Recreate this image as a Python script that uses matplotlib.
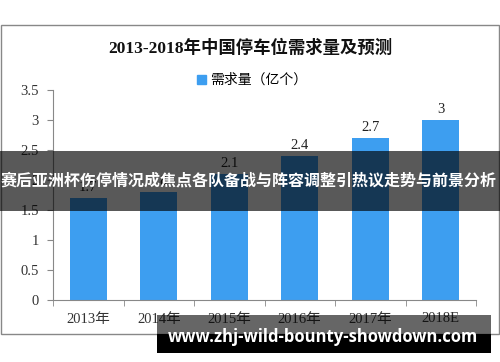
import matplotlib
matplotlib.use('Agg')
import matplotlib.pyplot as plt
from matplotlib.patches import Rectangle, Patch

plt.rcParams['font.family'] = ['Liberation Serif', 'Noto Sans CJK SC', 'DejaVu Sans']

years = ['2013年', '2014年', '2015年', '2016年', '2017年', '2018E']
demand = [1.7, 1.8, 2.1, 2.4, 2.7, 3.0]
value_labels = ['1.7', '1.8', '2.1', '2.4', '2.7', '3']
yticks = [0, 0.5, 1, 1.5, 2, 2.5, 3, 3.5]
ytick_labels = ['0', '0.5', '1', '1.5', '2', '2.5', '3', '3.5']

W, H = 500, 362
fig = plt.figure(figsize=(W / 100, H / 100), dpi=100)
fig.patch.set_facecolor('white')

def fx(x):
    return x / W

def fy(y):
    return 1 - y / H

# outer chart frame
fig.patches.append(Rectangle((fx(0.5), fy(334)), fx(498), fy(25) - fy(334),
                             transform=fig.transFigure, fill=False,
                             edgecolor='#888888', linewidth=1.0))

ax = fig.add_axes([fx(53), fy(300), fx(476) - fx(53), fy(90) - fy(300)])
xs = list(range(len(years)))
bars = ax.bar(xs, demand, width=0.52, color='#3d9ef0', zorder=2)
ax.set_xlim(-0.5, len(years) - 0.5)
ax.set_ylim(0, 3.5)

for x, v, s in zip(xs, demand, value_labels):
    ax.text(x, v + 0.07, s, ha='center', va='bottom', fontsize=10.5, color='#222222')

ax.set_yticks(yticks)
ax.set_yticklabels(ytick_labels, fontsize=10.5, color='#333333')
ax.set_xticks(xs)
ax.set_xticklabels(years, fontsize=10.5, color='#333333')
ax.tick_params(axis='x', length=0, pad=9)
ax.set_xticks([x + 0.5 for x in [-1] + xs], minor=True)
ax.tick_params(axis='x', which='minor', length=4, color='#888888')
ax.tick_params(axis='y', length=4, color='#888888', pad=6)
for side in ['top', 'right']:
    ax.spines[side].set_visible(False)
for side in ['left', 'bottom']:
    ax.spines[side].set_color('#888888')

fig.text(fx(250), fy(48), '2013-2018年中国停车位需求量及预测', ha='center', va='center',
         fontsize=12.5, fontweight='bold', color='#111111')
fig.legend(handles=[Patch(color='#3d9ef0', label='需求量（亿个）')],
           loc='center', bbox_to_anchor=(fx(252), fy(80)), frameon=False,
           handlelength=0.6, handleheight=0.6, handletextpad=0.3,
           prop={'family': ['Noto Sans CJK SC'], 'size': 10})

# overlay banner
fig.patches.append(Rectangle((0, fy(211)), 1, fy(151) - fy(211), transform=fig.transFigure,
                             facecolor='black', alpha=0.65, edgecolor='none', zorder=5))
fig.text(fx(249), fy(181), '赛后亚洲杯伤停情况成焦点各队备战与阵容调整引热议走势与前景分析',
         ha='center', va='center', fontsize=11.5, fontweight='bold', color='white',
         family=['Noto Sans CJK SC'], zorder=6)

# url band
fig.patches.append(Rectangle((fx(157), fy(334)), fx(491) - fx(157), fy(315) - fy(334),
                             transform=fig.transFigure, facecolor='black', alpha=0.6,
                             edgecolor='none', zorder=5))
fig.patches.append(Rectangle((fx(157), fy(353)), fx(491) - fx(157), fy(334) - fy(353),
                             transform=fig.transFigure, facecolor='black',
                             edgecolor='none', zorder=5))
fig.text(fx(323), fy(337), 'www.zhj-wild-bounty-showdown.com', ha='center', va='center',
         fontsize=12, fontweight='bold', color='white', family=['Open Sans'], zorder=6)

fig.savefig('out.png', dpi=100)
